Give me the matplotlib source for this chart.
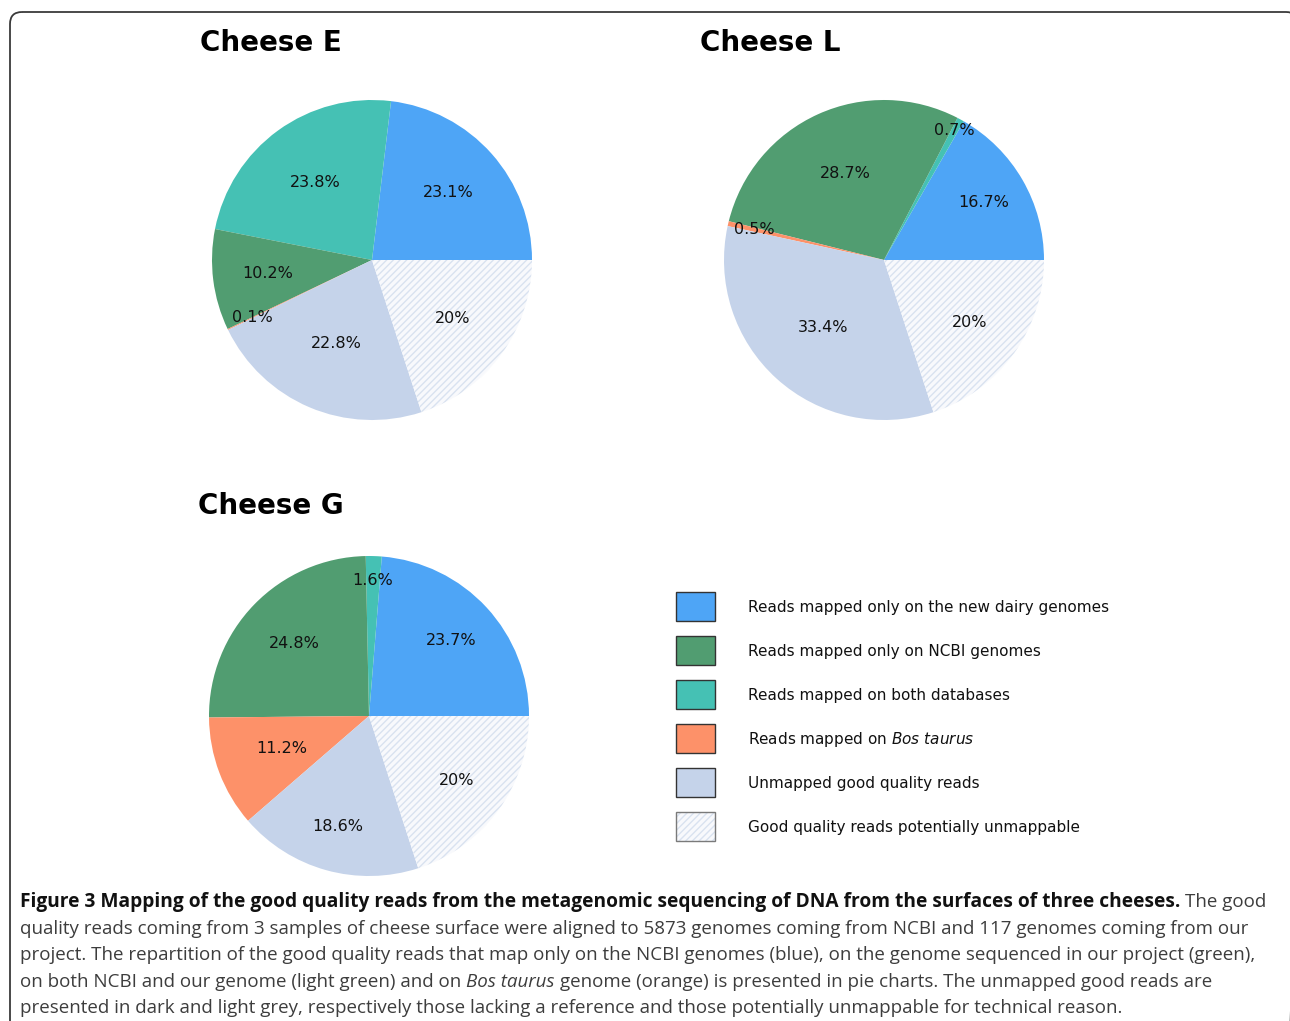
import matplotlib
matplotlib.use("Agg")
import matplotlib.pyplot as plt
from matplotlib.patches import FancyBboxPatch, Rectangle
import numpy as np

plt.rcParams["hatch.linewidth"] = 1.0

# ---------------- data ----------------
categories = [
    "Reads mapped only on the new dairy genomes",
    "Reads mapped only on NCBI genomes",
    "Reads mapped on both databases",
    "Reads mapped on $\\it{Bos\\ taurus}$",
    "Unmapped good quality reads",
    "Good quality reads potentially unmappable",
]
# pie order (counter-clockwise from 3 o'clock):
# new dairy, both databases, NCBI, Bos taurus, unmapped, potentially unmappable
pie_order = [0, 2, 1, 3, 4, 5]
cheese_names = ["Cheese E", "Cheese L", "Cheese G"]
values_E = [23.1, 23.8, 10.2, 0.1, 22.8, 20]
values_L = [16.7, 0.7, 28.7, 0.5, 33.4, 20]
values_G = [23.7, 1.6, 24.8, 11.2, 18.6, 20]

caption_lines = [
    [("Figure 3 Mapping of the good quality reads from the metagenomic sequencing of DNA from the surfaces of three cheeses.", "bold"),
     ("The good", "normal")],
    [("quality reads coming from 3 samples of cheese surface were aligned to 5873 genomes coming from NCBI and 117 genomes coming from our", "normal")],
    [("project. The repartition of the good quality reads that map only on the NCBI genomes (blue), on the genome sequenced in our project (green),", "normal")],
    [("on both NCBI and our genome (light green) and on", "normal"), ("Bos taurus", "italic"),
     ("genome (orange) is presented in pie charts. The unmapped good reads are", "normal")],
    [("presented in dark and light grey, respectively those lacking a reference and those potentially unmappable for technical reason.", "normal")],
]

# ---------------- style / layout ----------------
cat_colors = ["#4ea5f6", "#519d71", "#45c1b4", "#fd9169", "#c5d3ea", "#f8f9fc"]
hatch_color = "#d9e2f0"
W, H = 1290, 1021

fig = plt.figure(figsize=(W / 100, H / 100), dpi=100)
fig.patch.set_facecolor("white")
bg = fig.add_axes([0, 0, 1, 1])
bg.set_xlim(0, W)
bg.set_ylim(H, 0)
bg.axis("off")

# rounded frame
frame = FancyBboxPatch((10, 12), 1288, 1060, boxstyle="round,pad=0,rounding_size=12",
                       fill=False, edgecolor="#3a3a3a", linewidth=1.3)
bg.add_patch(frame)

pies = [
    (values_E, (372, 260), (200, 51), [0.64, 0.60, 0.66, 0.83, 0.57, 0.62]),
    (values_L, (884, 260), (700, 51), [0.72, 0.92, 0.59, 0.83, 0.57, 0.66]),
    (values_G, (369, 716), (198, 514), [0.70, 0.85, 0.65, 0.58, 0.72, 0.68]),
]
R = 160

for name, (vals, (cx, cy), (tx, ty), lab_r) in zip(cheese_names, pies):
    bg.text(tx, ty, name, fontsize=20, fontweight="bold", family="DejaVu Sans",
            ha="left", va="baseline", color="#000000")
    ax = fig.add_axes([(cx - R) / W, (H - cy - R) / H, 2 * R / W, 2 * R / H])
    cols = [cat_colors[k] for k in pie_order]
    wedges, _ = ax.pie(vals, colors=cols, startangle=0, counterclock=True,
                       radius=1, wedgeprops=dict(linewidth=0))
    hw = wedges[-1]
    hw.set_hatch("/////")
    hw.set_edgecolor(hatch_color)
    hw.set_linewidth(0)
    for w, v, r in zip(wedges, vals, lab_r):
        th = np.deg2rad((w.theta1 + w.theta2) / 2)
        ax.text(r * np.cos(th), r * np.sin(th), f"{v:g}%", ha="center", va="center",
                fontsize=11.5, color="#111111", family="DejaVu Sans")
    ax.set_xlim(-1.0, 1.0)
    ax.set_ylim(-1.0, 1.0)
    ax.set_aspect("equal")
    ax.axis("off")

# legend
for i, (lab, col) in enumerate(zip(categories, cat_colors)):
    y0 = 592 + 44 * i
    ec = "#333333" if i < 5 else "#7a7a7a"
    if i == 5:
        rect = Rectangle((676, y0), 39, 29, facecolor=col, edgecolor=hatch_color,
                         linewidth=0, hatch="/////")
        bg.add_patch(rect)
        bg.add_patch(Rectangle((676, y0), 39, 29, fill=False, edgecolor=ec, linewidth=1.0))
    else:
        bg.add_patch(Rectangle((676, y0), 39, 29, facecolor=col, edgecolor=ec, linewidth=1.0))
    bg.text(748, y0 + 15, lab, fontsize=11, family="DejaVu Sans", ha="left",
            va="center", color="#111111")

# caption
renderer = fig.canvas.get_renderer()
cap_font = "Open Sans"


def text_width(s, size, weight="normal", style="normal"):
    t = bg.text(0, 0, s, fontsize=size, family=cap_font, fontweight=weight, fontstyle=style)
    wdt = t.get_window_extent(renderer).width
    t.remove()
    return wdt


ref = caption_lines[1][0][0]
cap_size = 10 * 1232 / text_width(ref, 10)
space_w = text_width("a a", cap_size) - text_width("aa", cap_size)
# bold lead-in sized so the first line ends where the reference's does
tail_w = text_width(caption_lines[0][1][0], cap_size)
bold_target = 1242 - tail_w - space_w
bold_size = 10 * bold_target / text_width(caption_lines[0][0][0], 10, weight="bold")
bold_size = min(bold_size, cap_size * 1.04)

baselines = [907, 933.5, 960, 986.5, 1013]
for runs, yb in zip(caption_lines, baselines):
    x = 20
    for j, (s, st) in enumerate(runs):
        weight = "bold" if st == "bold" else "normal"
        fstyle = "italic" if st == "italic" else "normal"
        color = "#111111" if st == "bold" else "#3d3d3d"
        size = bold_size if st == "bold" else cap_size
        t = bg.text(x, yb, s, fontsize=size, family=cap_font, fontweight=weight,
                    fontstyle=fstyle, color=color, ha="left", va="baseline")
        x += t.get_window_extent(renderer).width + space_w

fig.savefig("out.png", dpi=100, facecolor="white")
